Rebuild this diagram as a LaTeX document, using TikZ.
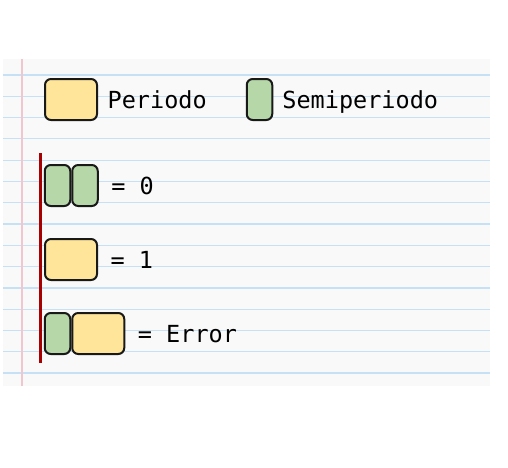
\documentclass[tikz,border=0pt]{standalone}
\usepackage{fontspec}
\setmonofont{DejaVu Sans Mono}
\usetikzlibrary{positioning}
\definecolor{periodo}{HTML}{FFE599}
\definecolor{semi}{HTML}{B6D7A8}
\definecolor{paper}{HTML}{F9F9F9}
\definecolor{rule}{HTML}{C6E1F5}
\definecolor{margin}{HTML}{F2C6CE}
\definecolor{bar}{HTML}{A80000}

\begin{document}
\begin{tikzpicture}[x=1pt, y=-1pt, node distance=12.5pt,
  box/.style={rectangle, draw=black!90, line width=2pt, rounded corners=6pt, minimum height=41pt, inner sep=0pt},
  periodobox/.style={box, fill=periodo, minimum width=52pt},
  semibox/.style={box, fill=semi, minimum width=25.5pt},
  label/.style={inner sep=0pt, text height=17.5pt, text depth=0pt, font=\ttfamily\fontsize{23.5}{28}\selectfont},
  ]
  \useasboundingbox (0,0) rectangle (508,467);
  %paper
  \fill[paper] (3,59) rectangle (490,386);
  \foreach \k in {0,...,14}
    \draw[rule, line width=1.2pt] (3,75+21.29*\k) -- (490,75+21.29*\k);
  \draw[margin, line width=1.5pt] (22,59) -- (22,386);
  \draw[bar, line width=3pt] (40.5,153) -- (40.5,363);

  %legend
  \node at (71, 99.5) [periodobox] (periodo) {};
  \node[label, right=9.5pt of periodo] (periodo text) {Periodo};
  \node at (259.5, 99.5) [semibox] (semi) {};
  \node[label, right=9pt of semi] (semi text) {Semiperiodo};

  %symbols
  \node at (57.5, 185.5) [semibox] (zero a) {};
  \node[semibox, right=0pt of zero a] (zero b) {};
  \node[label, right=of zero b] (zero text) {= 0};

  \node at (71, 259.5) [periodobox] (one) {};
  \node[label, right=of one] (one text) {= 1};

  \node at (57.5, 333.5) [semibox] (error a) {};
  \node[periodobox, right=0pt of error a] (error b) {};
  \node[label, right=of error b] (error text) {= Error};
\end{tikzpicture}
\end{document}
